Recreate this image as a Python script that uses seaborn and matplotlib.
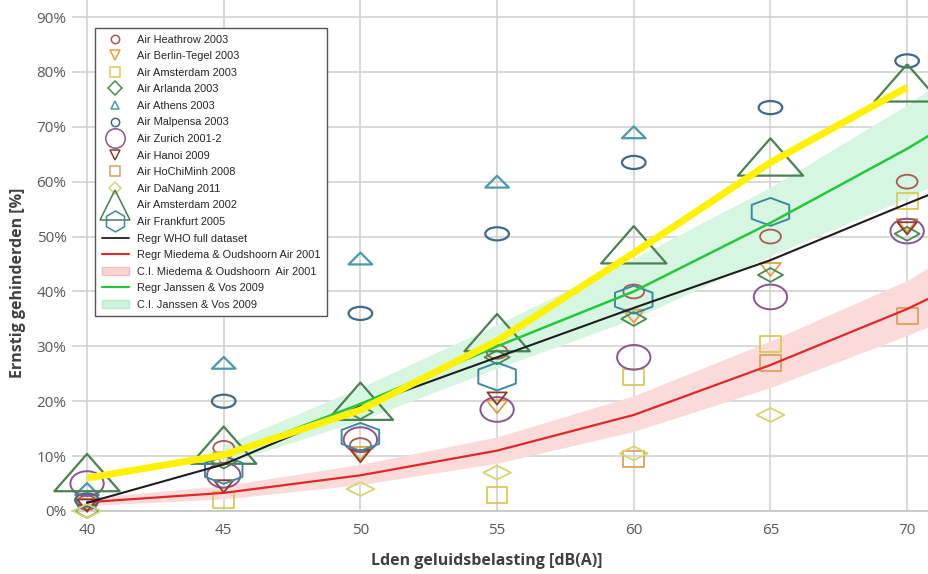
import numpy as np
import pandas as pd
import seaborn as sns
import matplotlib.pyplot as plt
from matplotlib.lines import Line2D
from matplotlib.patches import Patch
from matplotlib.markers import MarkerStyle
from matplotlib.path import Path

nan = np.nan

# noise levels (dB(A)) where the survey points sit
lden = [40, 45, 50, 55, 60, 65, 70]

# % highly annoyed per survey
heathrow_2003 = [1.5, 11.5, 12, 29, 40, 50, 60]
berlin_2003 = [1, 9.5, 10.5, 19, 35.5, 44, 52]
amsterdam_2003 = [nan, 2, nan, 3, 24.5, 30.5, 56.5]
arlanda_2003 = [0, 9, 18, 28, 35, 43, 50.5]
athens_2003 = [4, 27, 46, 60, 69, nan, nan]
malpensa_2003 = [2, 20, 36, 50.5, 63.5, 73.5, 82]
zurich_2001 = [5, 6.5, 13, 18.5, 28, 39, 51]
hanoi_2009 = [1, 4.5, 10, 20.5, nan, nan, 51.5]
hochiminh_2008 = [nan, nan, nan, nan, 9.5, 27, 35.5]
danang_2011 = [0, nan, 4, 7, 10.5, 17.5, nan]
amsterdam_2002 = [7, 12, 20, 32.5, 48.5, 64.5, 78]
frankfurt_2005 = [nan, 7.5, 13.5, 24.5, 38.5, 54.5, nan]

# regression curves (last point runs past the right edge)
curve_x = [40, 45, 50, 55, 60, 65, 70, 71]
who_full = [1.5, 8.5, 19, 28, 37, 45.7, 56, 58]
miedema = [1.6, 3.3, 6.5, 11, 17.5, 26.6, 36.8, 39.2]
miedema_lo = [1.0, 2.2, 4.8, 8.7, 14.5, 22.5, 32, 34]
miedema_hi = [2.4, 4.6, 8.5, 13.5, 21, 31, 42, 45]
janssen = [nan, 10, 19.5, 30, 40, 52.5, 66, 69]
janssen_lo = [nan, 8.5, 16.5, 26, 35, 46.5, 57, 59.5]
janssen_hi = [nan, 12, 22.5, 34, 46, 59, 74, 77.5]
highlight = [6, 10.2, 18.4, 31, 47, 63.5, 77.2]

y_ticks = [0, 10, 20, 30, 40, 50, 60, 70, 80, 90]


def wide(symbol, stretch):
    # the source picture is squashed, so the markers look wider than tall
    ms = MarkerStyle(symbol)
    p = ms.get_path().transformed(ms.get_transform())
    return Path(p.vertices * [stretch, 1.0], p.codes)


# label, values, marker, stretch, width(pt) in plot, legend size, colour, edge width
sites = [
    ("Air Heathrow 2003", heathrow_2003, "o", 1.5, 15, 6, "#a65a50", 1.3),
    ("Air Berlin-Tegel 2003", berlin_2003, "v", 1.6, 15, 7, "#e2a040", 1.3),
    ("Air Amsterdam 2003", amsterdam_2003, "s", 1.3, 15, 7, "#dcc85a", 1.3),
    ("Air Arlanda 2003", arlanda_2003, "D", 1.8, 18, 7, "#4a8a4e", 1.3),
    ("Air Athens 2003", athens_2003, "^", 2.0, 17, 6, "#4a9aaa", 1.6),
    ("Air Malpensa 2003", malpensa_2003, "o", 1.8, 17, 6, "#3f6a88", 1.6),
    ("Air Zurich 2001-2", zurich_2001, "o", 1.35, 24, 14, "#8a5690", 1.4),
    ("Air Hanoi 2009", hanoi_2009, "v", 1.6, 14, 7, "#8b3a2a", 1.3),
    ("Air HoChiMinh 2008", hochiminh_2008, "s", 1.3, 15, 7, "#dea060", 1.3),
    ("Air DaNang 2011", danang_2011, "D", 2.0, 20, 6, "#d6d470", 1.3),
    ("Air Amsterdam 2002", amsterdam_2002, "^", 1.75, 47, 22, "#4a8052", 1.6),
    ("Air Frankfurt 2005", frankfurt_2005, "h", 1.55, 27, 15, "#3d8a9c", 1.4),
]

sns.set_theme(style="white")
plt.rcParams['font.family'] = ['Open Sans', 'DejaVu Sans']

fig = plt.figure(figsize=(9.29, 5.74), dpi=100)
ax = fig.add_axes([72 / 929, 63 / 574, 857 / 929, 511 / 574])

# confidence bands
ax.fill_between(curve_x, miedema_lo, miedema_hi, color="#fbdada", lw=0, zorder=1.5)
ax.fill_between(curve_x, janssen_lo, janssen_hi, color="#d6f6e2", lw=0, zorder=1.5)

for label, vals, mk, stretch, size, _, col, lw in sites:
    df = pd.DataFrame({"lden": lden, "pct": vals}).dropna()
    sns.scatterplot(data=df, x="lden", y="pct", ax=ax, marker=wide(mk, stretch),
                    s=size ** 2, color=col, facecolor="none", edgecolor=col,
                    linewidth=lw, clip_on=False, zorder=3)

sns.lineplot(x=curve_x, y=miedema, ax=ax, color="#e02828", lw=1.6, zorder=4)
sns.lineplot(x=curve_x, y=janssen, ax=ax, color="#22c83a", lw=1.8, zorder=4)
sns.lineplot(x=curve_x, y=who_full, ax=ax, color="#1e1e1e", lw=1.5, zorder=4)
sns.lineplot(x=lden, y=highlight, ax=ax, color="#fff200", lw=5, zorder=5,
             solid_capstyle="butt")

ax.set_xlim(39.45, 70.8)
ax.set_ylim(0, 93.1)
ax.set_xticks(lden)
ax.set_yticks(y_ticks)
ax.set_yticklabels([f"{v}%" for v in y_ticks])
ax.grid(True, color="#d2d2d2", lw=1.2, zorder=0)
ax.set_axisbelow(True)
for side in ["top", "right", "left"]:
    ax.spines[side].set_visible(False)
ax.spines["bottom"].set_color("#c4c4c4")
ax.spines["bottom"].set_linewidth(1.2)
ax.tick_params(axis="x", length=4, width=1.2, color="#c4c4c4", pad=5,
               labelsize=11, labelcolor="#595959")
ax.tick_params(axis="y", length=0, pad=4, labelsize=11, labelcolor="#595959")

ax.set_xlabel("Lden geluidsbelasting [dB(A)]", fontsize=11.5, fontweight="bold",
              color="#404040")
ax.set_ylabel("Ernstig gehinderden [%]", fontsize=11.5, fontweight="bold",
              color="#404040")
ax.xaxis.set_label_coords(0.484, -0.083)
ax.yaxis.set_label_coords(-0.054, 0.446)

handles = []
for label, vals, mk, stretch, size, leg_size, col, lw in sites:
    handles.append(Line2D([], [], ls="", marker=mk, markersize=leg_size,
                          markerfacecolor="none", markeredgecolor=col,
                          markeredgewidth=1.1, label=label))
handles += [
    Line2D([], [], color="#1e1e1e", lw=1.3, label="Regr WHO full dataset"),
    Line2D([], [], color="#e02828", lw=1.5, label="Regr Miedema & Oudshoorn Air 2001"),
    Patch(facecolor="#fbd3d3", edgecolor="#f0c0c0", label="C.I. Miedema & Oudshoorn  Air 2001"),
    Line2D([], [], color="#22c83a", lw=1.6, label="Regr Janssen & Vos 2009"),
    Patch(facecolor="#cdf3da", edgecolor="#bfe8cc", label="C.I. Janssen & Vos 2009"),
]
leg = ax.legend(handles=handles, loc="upper left",
                bbox_to_anchor=(95 / 929, 1 - 28 / 574),
                bbox_transform=fig.transFigure, borderaxespad=0,
                frameon=True, fancybox=False, framealpha=1,
                edgecolor="#555555", prop={"family": "Liberation Sans", "size": 7.9},
                labelspacing=0.6, handlelength=2.5, handletextpad=0.7,
                borderpad=0.6)
leg.get_frame().set_linewidth(1.0)
leg.set_zorder(10)

fig.savefig("out.png", dpi=100)
